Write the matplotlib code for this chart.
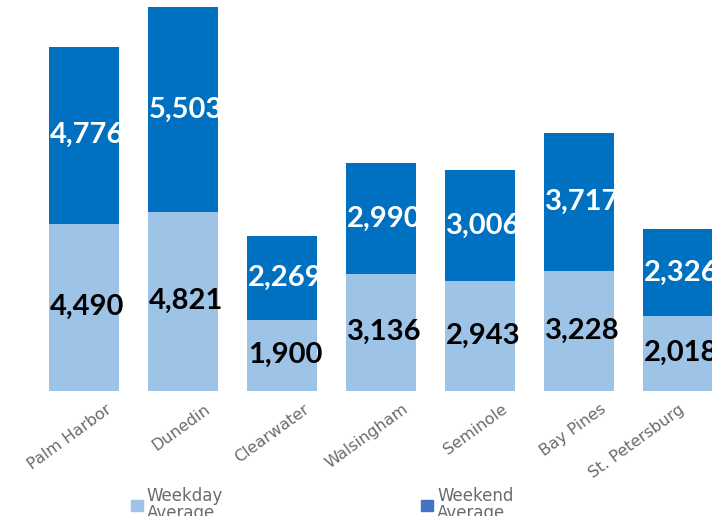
import matplotlib.pyplot as plt
from matplotlib.patches import Patch
from matplotlib.transforms import ScaledTranslation

# data
sites = ["Palm Harbor", "Dunedin", "Clearwater", "Walsingham", "Seminole", "Bay Pines", "St. Petersburg"]
weekday = [4490, 4821, 1900, 3136, 2943, 3228, 2018]
weekend = [4776, 5503, 2269, 2990, 3006, 3717, 2326]

c_wd = "#9DC3E6"
c_we = "#0070C0"
c_we_leg = "#4472C4"

fig = plt.figure(figsize=(7.12, 5.16), dpi=100)
ax = fig.add_axes([0, 1 - 390.5 / 516, 1, 390.5 / 516])

x = range(len(sites))
ax.bar(x, weekday, width=0.70, color=c_wd)
ax.bar(x, weekend, width=0.70, bottom=weekday, color=c_we)

for i in x:
    ax.text(i + 0.03, weekday[i] / 2, f"{weekday[i]:,}", ha="center", va="center",
            fontsize=21, fontweight="bold", family="Lato", color="black")
    ax.text(i + 0.03, weekday[i] + weekend[i] / 2, f"{weekend[i]:,}", ha="center", va="center",
            fontsize=21, fontweight="bold", family="Lato", color="white")

ax.set_xlim(-0.848, -0.848 + 712 / 99)
ax.set_ylim(0, 390.5 / 0.0371)
ax.set_yticks([])
ax.set_xticks(list(x))
ax.set_xticklabels(sites, rotation=36, ha="right", va="top", rotation_mode="anchor",
                   fontsize=11.5, color="#6b6b6b", family="DejaVu Sans")
ax.tick_params(axis="x", length=0, pad=8)
for k, lab in enumerate(ax.get_xticklabels()):
    dx = 21 if k < len(sites) - 1 else 0
    lab.set_transform(lab.get_transform() + ScaledTranslation(dx / 100, 0, fig.dpi_scale_trans))
for s in ax.spines.values():
    s.set_visible(False)

handles = [Patch(color=c_wd), Patch(color=c_we_leg)]
leg = fig.legend(handles, ["Weekday\nAverage", "Weekend\nAverage"], ncol=2,
                 loc="upper left", bbox_to_anchor=(131 / 712, 1 - 487 / 516),
                 frameon=False, borderpad=0, borderaxespad=0,
                 handlelength=0.7, handleheight=0.6, handletextpad=0.25,
                 columnspacing=11.9, prop={"family": "DejaVu Sans", "size": 12},
                 labelcolor="#6b6b6b")
for t in leg.get_texts():
    t.set_linespacing(0.95)

fig.savefig("out.png", dpi=100)
